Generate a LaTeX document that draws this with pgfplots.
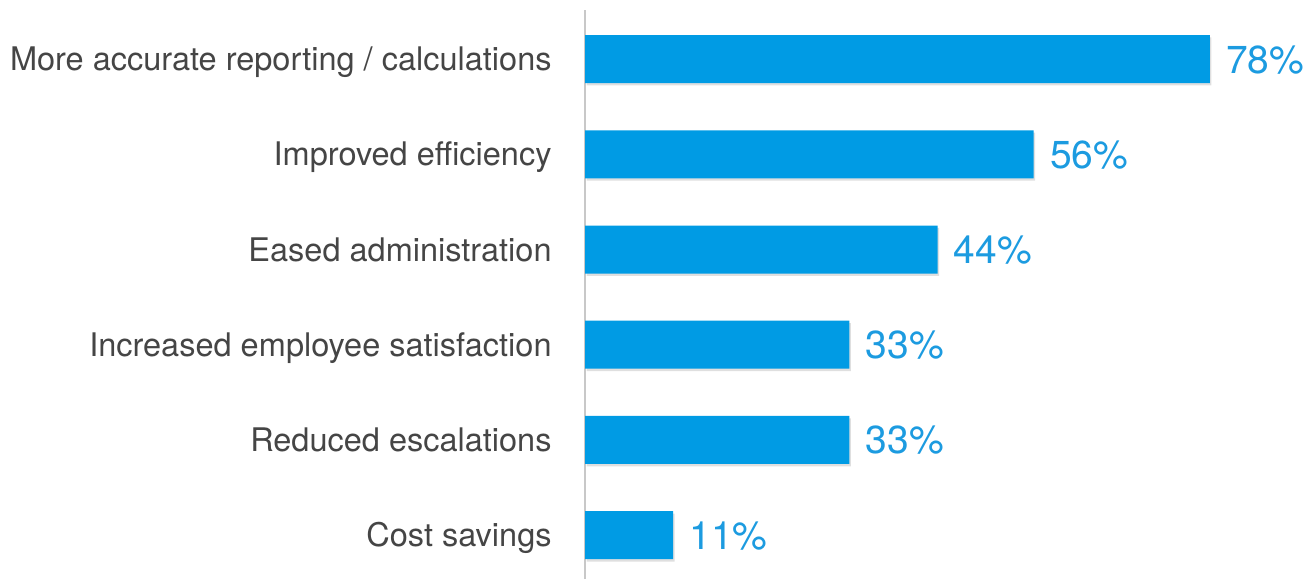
\documentclass[border=0pt]{standalone}
\usepackage{pgfplots}
\pgfplotsset{compat=1.18}
\usepackage{fontspec}
\setmainfont{TeX Gyre Heros}
\usetikzlibrary{shadows}
\definecolor{barblue}{HTML}{009BE4}
\definecolor{valblue}{HTML}{1C9BE0}
\definecolor{labgray}{HTML}{454545}
\definecolor{axgray}{HTML}{C8C8C8}
\begin{document}
\begin{tikzpicture}
\useasboundingbox (0,0) rectangle (655pt,289.5pt);
\begin{axis}[
  at={(292.5pt,0pt)}, anchor=south west,
  scale only axis,
  width=362.5pt, height=284.5pt,
  xmin=0, xmax=90.5,
  ymin=-0.46, ymax=5.515,
  xbar, bar width=24pt,
  axis x line=none,
  axis y line*=left,
  y axis line style={draw=axgray, line width=0.8pt, -},
  ytick={0,1,2,3,4,5},
  yticklabels={Cost savings, Reduced escalations, Increased employee satisfaction, Eased administration, Improved efficiency, More accurate reporting / calculations},
  major tick length=0pt,
  yticklabel style={font=\fontsize{16.25}{19}\selectfont, text=labgray, anchor=base east, inner sep=0pt, xshift=-16.5pt, yshift=-5.75pt},
  nodes near coords={\pgfmathprintnumber[assume math mode=true]{\pgfplotspointmeta}\%},
  point meta=x,
  nodes near coords style={font=\fontsize{19.5}{24}\selectfont, text=valblue, anchor=base west, inner sep=0pt, xshift=8pt, yshift=-7pt},
]
\addplot[fill=barblue, draw=none, drop shadow={shadow xshift=0.8pt, shadow yshift=-1.2pt, opacity=0.25}] coordinates {
(11,0) (33,1) (33,2) (44,3) (56,4) (78,5)
};
\end{axis}
\end{tikzpicture}
\end{document}
